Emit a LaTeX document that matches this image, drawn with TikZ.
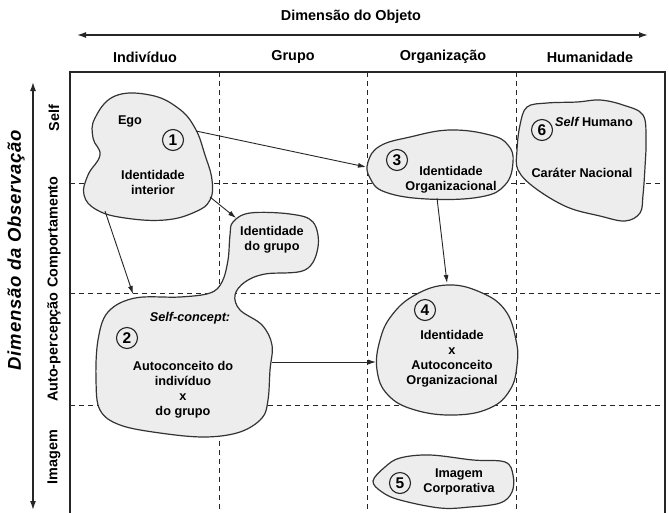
\documentclass[tikz,border=0pt]{standalone}
\usepackage{fontspec}
\setmainfont{Liberation Sans}
\newfontfamily\spacedsans[LetterSpace=4]{Liberation Sans}
\usetikzlibrary{arrows.meta}
\begin{document}
\begin{tikzpicture}[x=1pt,y=-1pt,
  hdr/.style={font=\fontsize{14.4}{16}\selectfont\bfseries},
  txt/.style={font=\fontsize{12.7}{15}\selectfont\bfseries,align=center,inner sep=0pt},
  frame/.style={line width=1.3pt,draw=black!85},
  grid/.style={line width=1pt,draw=black!85,dash pattern=on 5pt off 4pt},
  blob/.style={line width=1.2pt,draw=black!80,fill=black!7},
  num/.style={circle,draw=black!85,line width=1.1pt,minimum size=21pt,inner sep=0pt,
    font=\fontsize{15.5}{15.5}\selectfont\bfseries,fill=black!7},
  link/.style={line width=0.9pt,draw=black!85,-{Latex[length=8pt,width=5pt]}},
  axis/.style={line width=1.4pt,draw=black!85,{Latex[length=9pt,width=6pt]}-{Latex[length=9pt,width=6pt]}}]
\useasboundingbox (0,0) rectangle (669,512);
\fill[white] (0,0) rectangle (669,512);

% axes and headings
\node[hdr] (tobj) at (351,17) {Dimensão do Objeto};
\coordinate (oxl) at (77,35);
\coordinate (oxr) at (648,35);
\draw[axis] (oxl) -- (oxr);
\node[hdr] (cind) at (145,57) {Indivíduo};
\node[hdr] (cgru) at (293,57) {Grupo};
\node[hdr] (corg) at (443,57) {Organização};
\node[hdr] (chum) at (590,57) {Humanidade};

\coordinate (oyt) at (33,82);
\coordinate (oyb) at (33,510);
\draw[axis] (oyt) -- (oyb);
\node[rotate=90,font=\spacedsans\fontsize{18.5}{20}\selectfont\bfseries\itshape] (tobs) at (16,250) {Dimensão da Observação};
\node[hdr,rotate=90] (rself) at (54,118) {Self};
\node[hdr,rotate=90] (rcomp) at (54,232) {Comportamento};
\node[hdr,rotate=90] (rauto) at (54,347) {Auto-percepção};
\node[hdr,rotate=90] (rimg) at (54,457) {Imagem};

% grid
\draw[grid] (219,72) -- (219,515);
\draw[grid] (367,72) -- (367,515);
\draw[grid] (516,72) -- (516,515);
\draw[grid] (70,183) -- (665,183);
\draw[grid] (70,293) -- (665,293);
\draw[grid] (70,405) -- (665,405);
\draw[frame] (70,515) -- (70,72) -- (665,72) -- (665,515);

% blobs
\filldraw[blob] plot[smooth cycle,tension=0.7] coordinates {
  (115,96) (150,95) (178,108) (195,128) (205,155) (212,180) (210,200) (195,212)
  (165,220) (125,218) (97,210) (84,195) (88,175) (100,155) (93,138) (95,118)};
\filldraw[blob] plot[smooth cycle,tension=0.6] coordinates {
  (233,222) (250,213) (290,214) (313,222) (318,247) (305,270) (265,274) (245,282)
  (235,295) (240,310) (262,325) (272,345) (270,370) (268,400) (262,418) (240,432)
  (205,437) (160,433) (120,425) (100,410) (96,380) (98,340) (108,312) (135,298)
  (180,297) (210,293) (222,282) (228,260) (230,235)};
\filldraw[blob] plot[smooth cycle,tension=0.7] coordinates {
  (368,162) (380,146) (410,137) (450,130) (490,135) (508,145) (513,162) (505,185)
  (480,197) (427,199) (385,192) (370,178)};
\filldraw[blob] plot[smooth cycle,tension=0.6] coordinates {
  (527,107) (547,103) (577,102) (600,100) (623,105) (643,115) (646,140) (645,167)
  (643,195) (640,213) (625,221) (600,216) (567,207) (535,188) (518,170) (517,150) (520,125)};
\filldraw[blob] plot[smooth cycle,tension=0.7] coordinates {
  (447,285) (480,292) (505,310) (516,340) (517,365) (510,390) (490,408) (455,415)
  (415,410) (388,395) (377,370) (380,340) (392,315) (415,295)};
\filldraw[blob] plot[smooth cycle,tension=0.6] coordinates {
  (373,481) (385,467) (400,458) (430,455) (473,460) (505,462) (513,475) (512,492)
  (500,503) (470,507) (440,508) (400,500) (382,492)};

% blob contents
\node[txt] (ego) at (130,121) {Ego};
\node[num] (n1) at (173,140) {1};
\node[txt] (idint) at (153,182) {Identidade\\interior};

\node[txt] (idgru) at (272,240) {Identidade\\do grupo};
\node[txt,font=\fontsize{12.7}{15}\selectfont\bfseries\itshape] (sc) at (190,318) {Self-concept:};
\node[num] (n2) at (127,338) {2};
\node[txt] (acind) at (183,390) {Autoconceito do\\indivíduo\\x\\do grupo};

\node[num] (n3) at (397,160) {3};
\node[txt] (idorg) at (451,180) {Identidade\\Organizacional};

\node[num] (n6) at (542,130) {6};
\node[txt,anchor=west] (sh) at (555,122) {\itshape Self\upshape{} Humano};
\node[txt] (carn) at (582,173) {Caráter Nacional};

\node[num] (n4) at (425,310) {4};
\node[txt] (idac) at (452,359) {Identidade\\x\\Autoconceito\\Organizacional};

\node[num] (n5) at (400,483) {5};
\node[txt] (imc) at (459,482) {Imagem\\Corporativa};

% connectors between blobs
\coordinate (b1r) at (196,131);
\coordinate (b3l) at (366,167);
\coordinate (b1b) at (210,197);
\coordinate (bgt) at (236,218);
\coordinate (b1l) at (105,211);
\coordinate (b2t) at (133,294);
\coordinate (b3b) at (437,198);
\coordinate (b4t) at (447,283);
\coordinate (b2r) at (272,362);
\coordinate (b4l) at (376,362);
\draw[link] (b1r) -- (b3l);
\draw[link] (b1b) -- (bgt);
\draw[link] (b1l) -- (b2t);
\draw[link] (b3b) -- (b4t);
\draw[link] (b2r) -- (b4l);
\end{tikzpicture}
\end{document}
